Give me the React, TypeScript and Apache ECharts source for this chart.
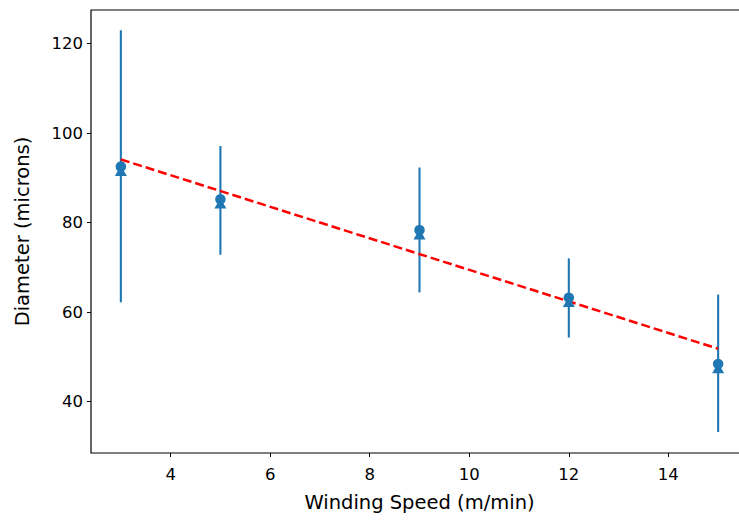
import React, { useEffect, useRef } from "react";
import * as echarts from "echarts";

const speeds = [3, 5, 9, 12, 15];
const meanDiameter = [92.5, 85.2, 78.3, 63.2, 48.4];
const medianDiameter = [91.6, 84.3, 77.4, 62.3, 47.5];
const errLow = [62.2, 72.8, 64.4, 54.3, 33.2];
const errHigh = [123.0, 97.1, 92.3, 72.0, 63.9];
const fitX = [3, 15];
const fitY = [94.1, 51.8];
const xTicks = [4, 6, 8, 10, 12, 14];
const yTicks = [40, 60, 80, 100, 120];

const BLUE = "#1f77b4";
const FONT = "DejaVu Sans";

export default function App() {
  const ref = useRef<HTMLDivElement>(null);
  useEffect(() => {
    if (!ref.current) return;
    const chart = echarts.init(ref.current, null, { renderer: "svg" });
    const errData = speeds.map((s, i) => [s, errLow[i], errHigh[i]]);
    chart.setOption({
      animation: false,
      backgroundColor: "#fff",
      grid: {
        left: 91,
        top: 10,
        right: 0,
        bottom: 70,
        show: true,
        borderColor: "#000",
        borderWidth: 1.2,
        backgroundColor: "transparent",
      },
      xAxis: {
        type: "value",
        min: 2.4,
        max: 15.6,
        name: "Winding Speed (m/min)",
        nameLocation: "middle",
        nameGap: 39,
        nameTextStyle: { fontFamily: FONT, fontSize: 19.5, color: "#000" },
        splitLine: { show: false },
        axisLine: { show: false },
        axisTick: {
          show: true,
          inside: false,
          length: 4,
          lineStyle: { color: "#000", width: 1 },
          customValues: xTicks,
        },
        axisLabel: {
          fontFamily: FONT,
          fontSize: 16.5,
          color: "#000",
          margin: 13,
          customValues: xTicks,
        },
      },
      yAxis: {
        type: "value",
        min: 28.5,
        max: 127.5,
        name: "Diameter (microns)",
        nameLocation: "middle",
        nameGap: 59,
        nameRotate: 90,
        nameTextStyle: { fontFamily: FONT, fontSize: 19.5, color: "#000" },
        splitLine: { show: false },
        axisLine: { show: false },
        axisTick: {
          show: true,
          inside: false,
          length: 4,
          lineStyle: { color: "#000", width: 1 },
          customValues: yTicks,
        },
        axisLabel: {
          fontFamily: FONT,
          fontSize: 16.5,
          color: "#000",
          margin: 8,
          customValues: yTicks,
        },
      },
      series: [
        {
          type: "custom",
          z: 1,
          data: errData,
          renderItem: (params: any, api: any) => {
            const x = api.value(0);
            const lo = api.coord([x, api.value(1)]);
            const hi = api.coord([x, api.value(2)]);
            return {
              type: "line",
              shape: { x1: lo[0], y1: lo[1], x2: hi[0], y2: hi[1] },
              style: { stroke: BLUE, lineWidth: 2.1 },
            };
          },
        },
        {
          type: "line",
          z: 2,
          data: fitX.map((x, i) => [x, fitY[i]]),
          showSymbol: false,
          symbol: "none",
          lineStyle: { color: "#ff0000", width: 2.5, type: [9, 4] },
        },
        {
          type: "scatter",
          z: 3,
          symbol: "triangle",
          symbolSize: [12, 10.5],
          itemStyle: { color: BLUE, opacity: 1 },
          data: speeds.map((s, i) => [s, medianDiameter[i]]),
        },
        {
          type: "scatter",
          z: 4,
          symbol: "circle",
          symbolSize: 10.5,
          itemStyle: { color: BLUE, opacity: 1 },
          data: speeds.map((s, i) => [s, meanDiameter[i]]),
        },
      ],
    });
    return () => chart.dispose();
  }, []);
  return (
    <div
      ref={ref}
      style={{ position: "fixed", left: 0, top: 0, width: 748, height: 523 }}
    />
  );
}
